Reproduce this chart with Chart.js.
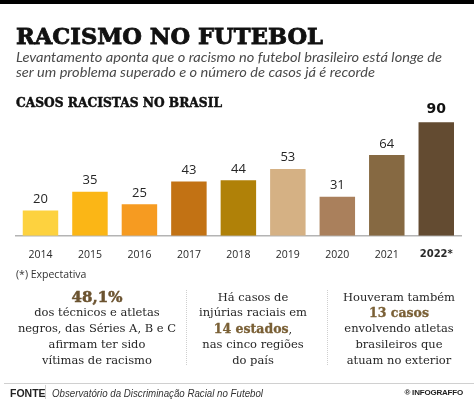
<!DOCTYPE html>
<html><head><meta charset="utf-8">
<script src="https://cdn.jsdelivr.net/npm/chart.js@4.4.1/dist/chart.umd.min.js"></script>
<style>
html,body{margin:0;padding:0;background:#fff;}
body{width:474px;height:399px;overflow:hidden;position:relative;}
#topbar{position:absolute;left:0;top:0;width:474px;height:4px;background:#000;}
#c{position:absolute;left:0;top:0;}
.t{position:absolute;white-space:nowrap;}
#title{left:16px;top:25px;font:bold 22px/22px "DejaVu Serif";color:#111;transform-origin:0 0;-webkit-text-stroke:0.8px #111;}
.sub{left:16px;font:italic 14px/15.5px Lato;color:#4a4a4a;transform-origin:0 0;}
#ctitle{left:16px;top:96px;font:bold 13px/13px "DejaVu Serif";color:#111;transform-origin:0 0;-webkit-text-stroke:0.5px #111;}
#note{left:16px;top:268px;font:10.5px/12px "Open Sans";color:#333;}
.col{position:absolute;top:289.5px;width:170px;text-align:center;font:11.5px/15.8px "DejaVu Serif";color:#262626;}
.col div{white-space:nowrap;height:15.8px;}
.hl{font:bold 12.5px/15.8px "DejaVu Serif";color:#7a6036;-webkit-text-stroke:0.3px #7a6036;}
.big{font:bold 15px/15.8px "DejaVu Serif";color:#6b5330;-webkit-text-stroke:0.5px #6b5330;}
.sep{position:absolute;top:290px;height:75px;border-left:1.5px dotted #cfcfcf;}
#fline{position:absolute;left:4px;top:383px;width:470px;height:1px;background:#d0d0d0;}
#fsep{position:absolute;left:45px;top:385px;width:1px;height:14px;background:#d0d0d0;}
#fonte{left:10px;top:387px;font:bold 10.5px/12px "Liberation Sans";color:#222;}
#src{left:52px;top:387px;font:italic 10.5px/12px "Liberation Sans";color:#333;transform-origin:0 0;}
#brand{right:11px;top:388px;font:bold 8px/10px "Liberation Sans";color:#222;letter-spacing:-0.2px;}
</style>
</head>
<body>
<canvas id="c" width="474" height="399"></canvas>
<div id="topbar"></div>
<div class="t" id="title" data-fit="307">RACISMO NO FUTEBOL</div>
<div class="t sub" style="top:48.8px" data-fit="426">Levantamento aponta que o racismo no futebol brasileiro está longe de</div>
<div class="t sub" style="top:64.3px" data-fit="359">ser um problema superado e o número de casos já é recorde</div>
<div class="t" id="ctitle" data-fit="206">CASOS RACISTAS NO BRASIL</div>
<div class="t" id="note">(*) Expectativa</div>

<div class="col" style="left:12px">
  <div class="big">48,1%</div>
  <div>dos técnicos e atletas</div>
  <div>negros, das Séries A, B e C</div>
  <div>afirmam ter sido</div>
  <div>vítimas de racismo</div>
</div>
<div class="sep" style="left:186px"></div>
<div class="col" style="left:168px">
  <div>Há casos de</div>
  <div>injúrias raciais em</div>
  <div><span class="hl">14 estados</span>,</div>
  <div>nas cinco regiões</div>
  <div>do país</div>
</div>
<div class="sep" style="left:327px"></div>
<div class="col" style="left:314px">
  <div>Houveram também</div>
  <div class="hl">13 casos</div>
  <div>envolvendo atletas</div>
  <div>brasileiros que</div>
  <div>atuam no exterior</div>
</div>

<div id="fline"></div>
<div id="fsep"></div>
<div class="t" id="fonte">FONTE</div>
<div class="t" id="src" data-fit="211">Observatório da Discriminação Racial no Futebol</div>
<div class="t" id="brand">® INFOGRAFFO</div>

<script>
const categories = ['2014','2015','2016','2017','2018','2019','2020','2021','2022*'];
const cases = [20, 35, 25, 43, 44, 53, 31, 64, 90];
const barColors = ['#fdd23f','#fbb616','#f69b21','#c27214','#b08108','#d5b184','#aa805c','#866942','#634b31'];
const yMax = 100;

document.querySelectorAll('[data-fit]').forEach(el => {
  const target = parseFloat(el.dataset.fit);
  const w = el.getBoundingClientRect().width;
  if (w > 0) el.style.transform = 'scaleX(' + (target / w) + ')';
});

const valueLabels = {
  id: 'valueLabels',
  afterDatasetsDraw(chart) {
    const ctx = chart.ctx;
    const meta = chart.getDatasetMeta(0);
    meta.data.forEach((bar, i) => {
      const last = i === cases.length - 1;
      ctx.save();
      ctx.font = last ? 'bold 14px "DejaVu Sans"' : '13px "Open Sans"';
      ctx.fillStyle = last ? '#111' : '#262626';
      ctx.textAlign = 'center';
      ctx.textBaseline = 'alphabetic';
      ctx.fillText(String(cases[i]), bar.x, bar.y - (last ? 9.5 : 7.5));
      ctx.restore();
    });
  }
};

new Chart(document.getElementById('c'), {
  type: 'bar',
  data: {
    labels: categories,
    datasets: [{
      data: cases,
      backgroundColor: barColors,
      borderWidth: 0,
      categoryPercentage: 1,
      barPercentage: 0.717
    }]
  },
  options: {
    responsive: false,
    animation: false,
    layout: { padding: { left: 15.75, right: 13, top: 109.7, bottom: 125.6 } },
    plugins: { legend: { display: false }, tooltip: { enabled: false } },
    scales: {
      y: { display: false, min: 0, max: yMax },
      x: {
        grid: { display: false, drawTicks: false },
        border: { display: true, color: '#b4b4b4', width: 1.5 },
        ticks: {
          padding: 12.5,
          color: '#2a2a2a',
          font: ctx => ctx.index === categories.length - 1
            ? { family: '"DejaVu Sans"', size: 10, weight: 'bold' }
            : { family: '"Open Sans"', size: 10.5 }
        }
      }
    }
  },
  plugins: [valueLabels]
});
</script>
</body></html>
